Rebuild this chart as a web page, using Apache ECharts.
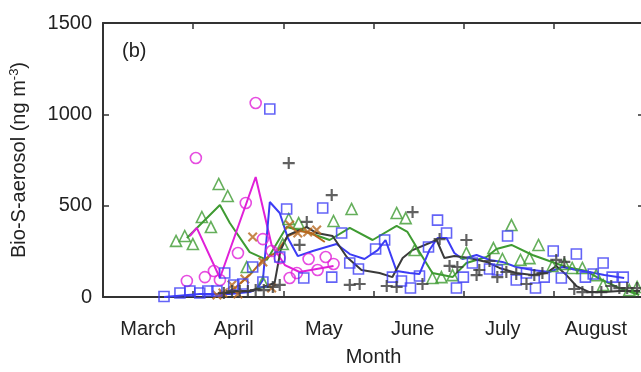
<!DOCTYPE html>
<html>
<head>
<meta charset="utf-8">
<script src="https://cdn.jsdelivr.net/npm/echarts@6/dist/echarts.min.js"></script>
<style>
  html, body { margin: 0; padding: 0; background: #fff; }
  #main { width: 641px; height: 372px; }
</style>
</head>
<body>
<div id="main"></div>
<script>
// x = days since 1 March, y = ng m-3
var monthNames = ["March", "April", "May", "June", "July", "August"];
var monthLabelDays = [15, 43.5, 73.5, 103, 133, 164];
var yTicks = [0, 500, 1000, 1500];

// magenta circles + line
var magentaObs = [[27.9,88],[30.9,761],[33.9,109],[36.9,142],[38.9,93],[44.9,241],[47.5,515],[50.8,1062],[53.2,317],[56.1,252],[58.8,213],[62.1,104],[64.5,131],[68.4,208],[71.4,148],[74.1,219],[76.7,181]];
var magentaLine = [[28.9,334],[31.2,378],[38.9,104],[50.8,657],[56.1,285],[60.5,175],[65.4,137],[76.7,170]];

// green triangles + line
var greenObs = [[24.3,307],[27.2,334],[29.9,290],[32.9,438],[35.9,383],[38.5,619],[41.5,553],[47.8,164],[53.2,82],[59.8,290],[61.8,427],[65.1,405],[76.7,416],[82.7,482],[97.7,460],[100.7,432],[103.7,257],[109.6,104],[112.6,109],[116.3,120],[120.9,241],[129.9,268],[132.9,208],[135.9,394],[138.9,203],[141.9,213],[144.9,285],[149.5,170],[153.5,181],[156.1,159],[159.5,159],[164.1,120],[166.4,66],[175.1,38],[177.7,55]];
var greenLine = [[27.9,323],[32.9,405],[38.9,504],[42.2,405],[48.8,246],[54.5,203],[61.1,383],[67.8,356],[75.4,312],[82.1,378],[89.7,312],[97.7,389],[101.3,356],[105.3,246],[109.6,131],[116.3,109],[120.9,186],[127.6,219],[130.9,263],[135.9,285],[142.9,230],[148.5,197],[154.2,164],[160.8,142],[166.1,93],[171.8,49],[178.4,11]];

// blue squares + line
var blueObs = [[20.3,3],[25.6,22],[28.9,33],[32.2,22],[34.9,33],[37.9,33],[40.5,131],[43.5,66],[46.5,71],[49.8,164],[53.2,82],[55.5,1029],[58.8,219],[61.1,482],[66.8,104],[73.1,487],[76.1,109],[79.4,350],[82.1,186],[85.0,153],[90.7,263],[93.7,312],[96.3,109],[99.3,88],[102.3,49],[105.3,115],[108.3,274],[111.3,421],[114.3,350],[117.6,49],[119.9,109],[122.9,186],[128.6,153],[131.2,148],[134.6,334],[137.5,93],[140.9,131],[143.9,49],[146.8,109],[149.8,252],[152.5,104],[157.5,235],[160.5,109],[163.1,126],[166.4,186],[169.4,109],[173.1,109]];
var blueLine = [[20.3,0],[32.2,16],[42.2,16],[48.8,27],[51.2,44],[53.2,93],[55.5,520],[58.8,460],[61.5,323],[64.8,224],[69.8,252],[77.7,290],[82.1,235],[87.0,208],[91.4,257],[94.0,312],[97.7,142],[102.0,131],[105.3,126],[108.6,257],[111.3,323],[114.3,323],[116.9,241],[119.6,208],[124.3,230],[128.6,203],[132.9,192],[137.5,164],[142.9,148],[148.5,137],[152.8,164],[157.5,148],[161.8,137],[166.8,120],[173.4,104]];

// dark grey pluses + line
var greyObs = [[40.2,22],[42.9,33],[45.5,33],[48.2,33],[50.8,38],[53.5,38],[56.5,55],[58.8,66],[61.8,733],[65.4,285],[67.8,411],[76.1,558],[82.1,66],[85.4,71],[94.4,60],[97.7,55],[103.0,465],[106.3,71],[112.0,317],[115.3,170],[117.9,164],[120.9,312],[124.3,120],[125.2,148],[128.6,197],[131.2,109],[134.2,137],[137.5,126],[140.9,71],[143.5,120],[146.2,131],[150.8,203],[153.5,192],[156.8,44],[159.5,27],[162.8,27],[165.8,27],[169.1,60],[171.8,49],[174.4,49],[177.7,49]];
var greyLine = [[38.9,22],[48.8,33],[53.2,55],[57.1,77],[59.1,257],[61.5,339],[67.8,383],[71.1,350],[76.4,334],[81.1,219],[86.0,148],[92.0,131],[96.3,109],[99.7,213],[103.0,257],[111.0,312],[113.6,213],[116.9,224],[121.9,213],[127.6,192],[131.9,159],[137.5,131],[142.9,120],[147.5,131],[150.8,170],[154.2,120],[157.5,60],[161.8,27],[166.8,27],[171.8,33],[178.7,33]];

// brown crosses + line
var brownObs = [[37.9,11],[39.9,22],[42.9,66],[44.9,16],[47.2,99],[49.8,328],[53.2,192],[56.1,49],[62.1,394],[64.8,350],[68.1,356],[71.1,367]];
var brownLine = [[38.9,0],[43.9,49],[48.8,120],[53.2,203],[57.8,246],[61.5,334],[65.4,361],[69.4,350],[73.8,301]];

var MAGENTA = "#e020d8", GREEN = "#3f9b32", BLUE = "#3c3cf5", GREY = "#3a3a3a", BROWN = "#b8681f";
var plusPath = "path://M4.1,0H5.9V10H4.1Z M0,4.1H10V5.9H0Z";
var FONT = "Liberation Sans";

function lineSeries(data, color) {
  return { type: "line", data: data, showSymbol: false, silent: true,
           lineStyle: { color: color, width: 2 }, z: 2 };
}
function markSeries(data, color, symbol, size, rotate) {
  var hollow = symbol.indexOf("path://") !== 0;
  return { type: "scatter", data: data, symbol: symbol, symbolSize: size,
           symbolRotate: rotate || 0, z: 3,
           itemStyle: hollow ? { color: "rgba(0,0,0,0)", borderColor: color, borderWidth: 1.6 }
                             : { color: color } };
}

// frame axes: line not tied to zero, ticks pointing into the plot
function axisLine() { return { onZero: false, lineStyle: { color: "#333", width: 2 } }; }
function tickIn() { return { inside: true, length: 6, lineStyle: { color: "#333", width: 1.5 } }; }

var chart = echarts.init(document.getElementById("main"));
chart.setOption({
  animation: false,
  textStyle: { fontFamily: FONT },
  title: { text: "(b)", left: 117, top: 36,
           textStyle: { fontFamily: FONT, fontSize: 20, fontWeight: "normal", color: "#222" } },
  // plot runs a little past the right edge of the picture, as in the source figure
  grid: { left: 103, top: 23, width: 541, height: 274, containLabel: false, outerBoundsMode: "none" },
  xAxis: [
    { type: "value", min: 0, max: 180, interval: 30, position: "bottom",
      name: "Month", nameLocation: "middle", nameGap: 50,
      nameTextStyle: { fontSize: 20, color: "#222", fontFamily: FONT },
      axisLine: axisLine(), axisTick: tickIn(), splitLine: { show: false },
      axisLabel: { customValues: monthLabelDays, margin: 22, fontSize: 20, color: "#222", fontFamily: FONT,
                   formatter: function (v) { return monthNames[monthLabelDays.indexOf(v)]; } } },
    { type: "value", min: 0, max: 180, interval: 30, position: "top",
      axisLine: axisLine(), axisTick: tickIn(), axisLabel: { show: false }, splitLine: { show: false } }
  ],
  yAxis: [
    { type: "value", min: yTicks[0], max: yTicks[yTicks.length - 1], interval: 500, position: "left",
      name: "Bio-S-aerosol (ng m{sup|-3})", nameLocation: "middle", nameGap: 72,
      nameTextStyle: { fontSize: 20, color: "#222", fontFamily: FONT,
                       rich: { sup: { fontSize: 13, color: "#222", fontFamily: FONT, padding: [0, 0, 10, 0] } } },
      axisLine: axisLine(), axisTick: tickIn(), splitLine: { show: false },
      axisLabel: { margin: 11, fontSize: 20, color: "#222", fontFamily: FONT,
                   formatter: function (v) { return String(v); } } },
    { type: "value", min: 0, max: 1500, interval: 500, position: "right",
      axisLine: axisLine(), axisTick: tickIn(), axisLabel: { show: false }, splitLine: { show: false } }
  ],
  series: [
    lineSeries(greenLine, GREEN),
    lineSeries(magentaLine, MAGENTA),
    lineSeries(brownLine, BROWN),
    lineSeries(blueLine, BLUE),
    lineSeries(greyLine, GREY),
    markSeries(greenObs, GREEN, "triangle", 11),
    markSeries(magentaObs, MAGENTA, "circle", 11),
    markSeries(brownObs, BROWN, plusPath, 12, 45),
    markSeries(blueObs, BLUE, "rect", 10),
    markSeries(greyObs, GREY, plusPath, 12)
  ]
});
</script>
</body>
</html>
